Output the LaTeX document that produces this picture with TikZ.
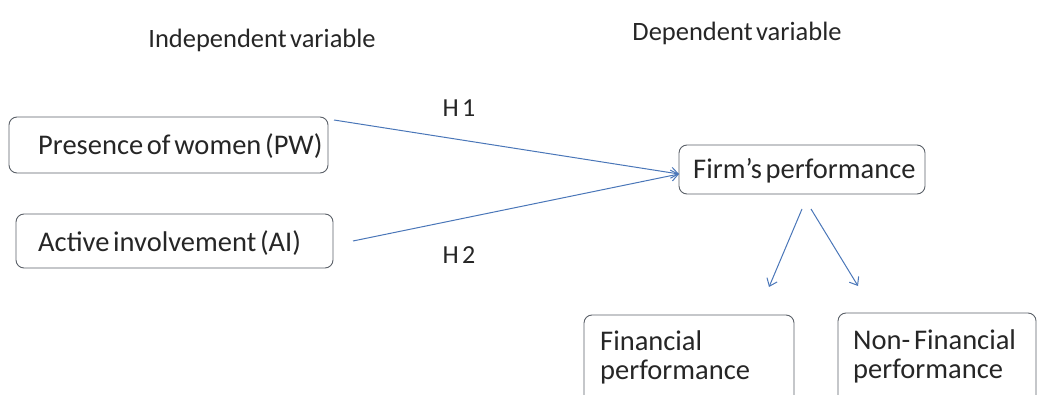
\documentclass[tikz,border=0pt]{standalone}
\usepackage{fontspec}
\setmainfont{Carlito}
\usetikzlibrary{arrows.meta}
\definecolor{linkblue}{HTML}{4A76B8}
\definecolor{boxline}{HTML}{5A6068}
\definecolor{ink}{HTML}{262626}
\newcommand{\tightspaces}{\spaceskip=0.13em plus 0.05em minus 0.05em\relax}
\tikzset{
  box/.style={draw=boxline, line width=0.9pt, rounded corners=8pt},
  label/.style={anchor=west, inner sep=0pt, align=left, text=ink,
    font=\fontsize{28.5}{29}\selectfont\tightspaces},
  link/.style={draw=linkblue, line width=1pt, -{Straight Barb[length=7pt,width=11pt]}},
  heading/.style={font=\fontsize{26.5}{28}\selectfont\tightspaces, text=ink},
  hyp/.style={font=\fontsize{26}{28}\selectfont\tightspaces, text=ink}
}
\begin{document}
\begin{tikzpicture}[x=1pt,y=-1pt]
\useasboundingbox (0,0) rectangle (1038,395);
\clip (0,0) rectangle (1038,395);
% column headings
\node[heading] (hin) at (262,40) {Independent variable};
\node[heading] (hdep) at (737,33) {Dependent variable};
% independent variables
\draw[box] (9,117) rectangle (328,173);
\node[label] (pwt) at (38,146) {Presence of women (PW)};
\draw[box] (16,214) rectangle (333,268);
\node[label] (ait) at (38,243) {Active involvement (AI)};
% dependent variable
\draw[box] (679,145) rectangle (925,194);
\coordinate (fpw) at (679,174);
\node[label] (fpt) at (693,171) {Firm’s performance};
% its two facets, running off the lower edge
\draw[box] (584,315) rectangle (794,420);
\node[label, anchor=north west] (fint) at (600,331) {Financial\\performance};
\draw[box] (838,313) rectangle (1036,420);
\node[label, anchor=north west] (nfint) at (853,330) {Non- Financial\\performance};
% hypotheses
\coordinate (h1s) at (334,120);
\coordinate (h2s) at (353,241);
\draw[link] (h1s) -- (fpw);
\draw[link] (h2s) -- (fpw);
\node[hyp] (h1) at (459,108) {H 1};
\node[hyp] (h2) at (459,255) {H 2};
% split of firm's performance
\coordinate (d1s) at (802,209);
\coordinate (d1e) at (769,287);
\coordinate (d2s) at (811,209);
\coordinate (d2e) at (858,286);
\draw[link] (d1s) -- (d1e);
\draw[link] (d2s) -- (d2e);
\end{tikzpicture}
\end{document}
